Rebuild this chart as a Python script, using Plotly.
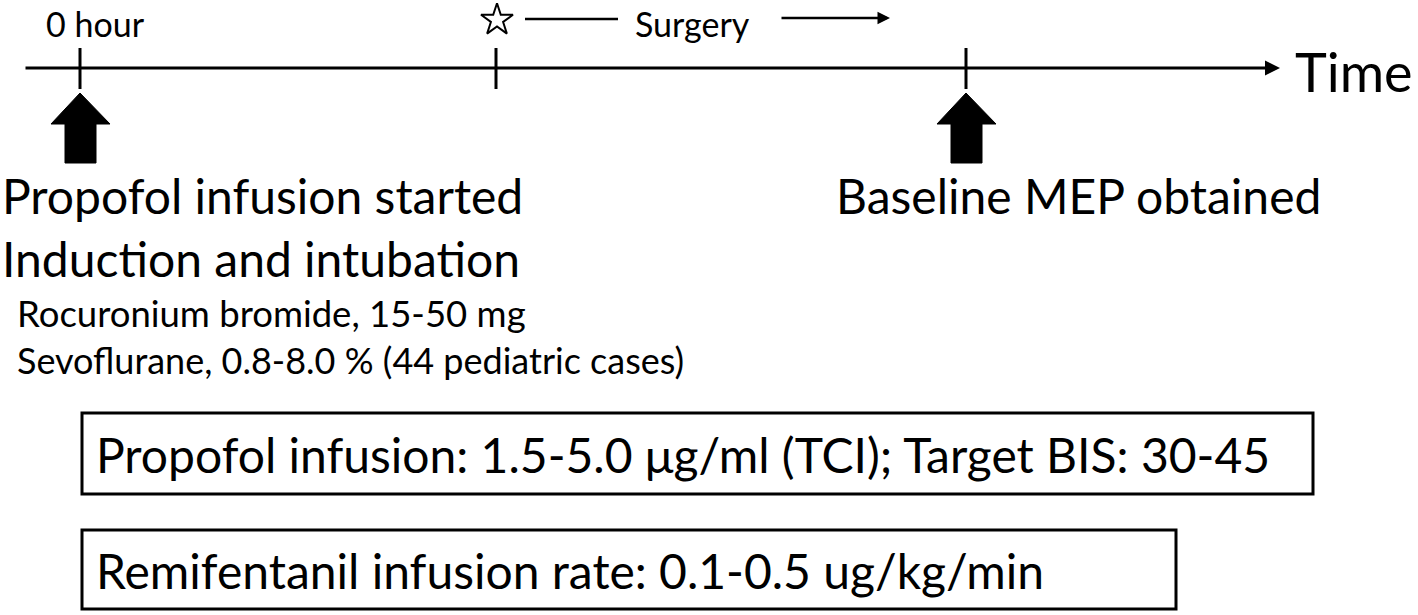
import plotly.graph_objects as go

# ---- data ----
event_x = [80, 496, 966]                 # tick positions on the timeline (px in diagram space)
arrow_events = [80, 966]                 # block arrows under these ticks
timeline_y = 68
timeline_start, timeline_end = 24, 1280

labels_top = ["0 hour", "Surgery", "Time"]
label_left_1 = ["Propofol infusion started", "Induction and intubation"]
label_left_2 = ["Rocuronium bromide, 15-50 mg", "Sevoflurane, 0.8-8.0 % (44 pediatric cases)"]
label_right = "Baseline MEP obtained"
box_texts = ["Propofol infusion: 1.5-5.0 \u03bcg/ml (TCI); Target BIS: 30-45",
             "Remifentanil infusion rate: 0.1-0.5 ug/kg/min"]
box_right = [1313, 1176]
box_top = [413, 530]
box_bottom = [494, 609]

W, H = 1418, 615
FONT = "Lato"
BLK = "black"

fig = go.Figure()

shapes = []
# ticks
for x in event_x:
    shapes.append(dict(type="line", x0=x, x1=x, y0=48, y1=89, line=dict(color=BLK, width=3)))
# block arrows
for x in arrow_events:
    path = (f"M {x} 93 L {x+30} 124 L {x+16} 124 L {x+16} 163 "
            f"L {x-15} 163 L {x-15} 124 L {x-29} 124 Z")
    shapes.append(dict(type="path", path=path, fillcolor=BLK, line=dict(color=BLK, width=1)))
# boxes
for r, t, b in zip(box_right, box_top, box_bottom):
    shapes.append(dict(type="rect", x0=82, x1=r, y0=t, y1=b, line=dict(color=BLK, width=3),
                       fillcolor="rgba(0,0,0,0)"))
# surgery left line
shapes.append(dict(type="line", x0=525, x1=618, y0=19, y1=19, line=dict(color=BLK, width=2.5)))

annotations = []
# timeline arrow
annotations.append(dict(x=timeline_end, y=timeline_y, ax=timeline_start, ay=timeline_y,
                        xref="x", yref="y", axref="x", ayref="y", text="", showarrow=True,
                        arrowhead=2, arrowsize=1, arrowwidth=3, arrowcolor=BLK))
# surgery arrow
annotations.append(dict(x=890, y=18, ax=780, ay=18, xref="x", yref="y", axref="x", ayref="y",
                        text="", showarrow=True, arrowhead=2, arrowsize=1, arrowwidth=2.5,
                        arrowcolor=BLK))

def txt(x, y, s, size, anchor="left"):
    annotations.append(dict(x=x, y=y, xref="x", yref="y", text=s, showarrow=False,
                            xanchor=anchor, yanchor="middle",
                            font=dict(family=FONT, size=size, color=BLK)))

txt(95, 23, labels_top[0], 34, "center")
txt(692, 23, labels_top[1], 34, "center")
txt(1293, 71, labels_top[2], 54, "left")
txt(0, 195, label_left_1[0], 48)
txt(0, 258, label_left_1[1], 48)
txt(834, 195, label_right, 48)
txt(15, 313, label_left_2[0], 36.5)
txt(15, 360, label_left_2[1], 36)
for t, b, s in zip(box_top, box_bottom, box_texts):
    txt(94, (t + b) / 2 + 1, s, 48)

# star marker
fig.add_trace(go.Scatter(x=[event_x[1] + 1], y=[20], mode="markers",
                         marker=dict(symbol="star-open", size=24, color=BLK, line=dict(width=2)),
                         hoverinfo="skip", showlegend=False))

fig.update_layout(
    width=W, height=H, margin=dict(l=0, r=0, t=0, b=0),
    paper_bgcolor="white", plot_bgcolor="white",
    xaxis=dict(range=[0, W], visible=False, fixedrange=True),
    yaxis=dict(range=[H, 0], visible=False, fixedrange=True),
    shapes=shapes, annotations=annotations, showlegend=False,
)

fig.write_html("out.html", config={"displayModeBar": False},
               post_script="document.body.style.margin='0';document.body.style.overflow='hidden';")
